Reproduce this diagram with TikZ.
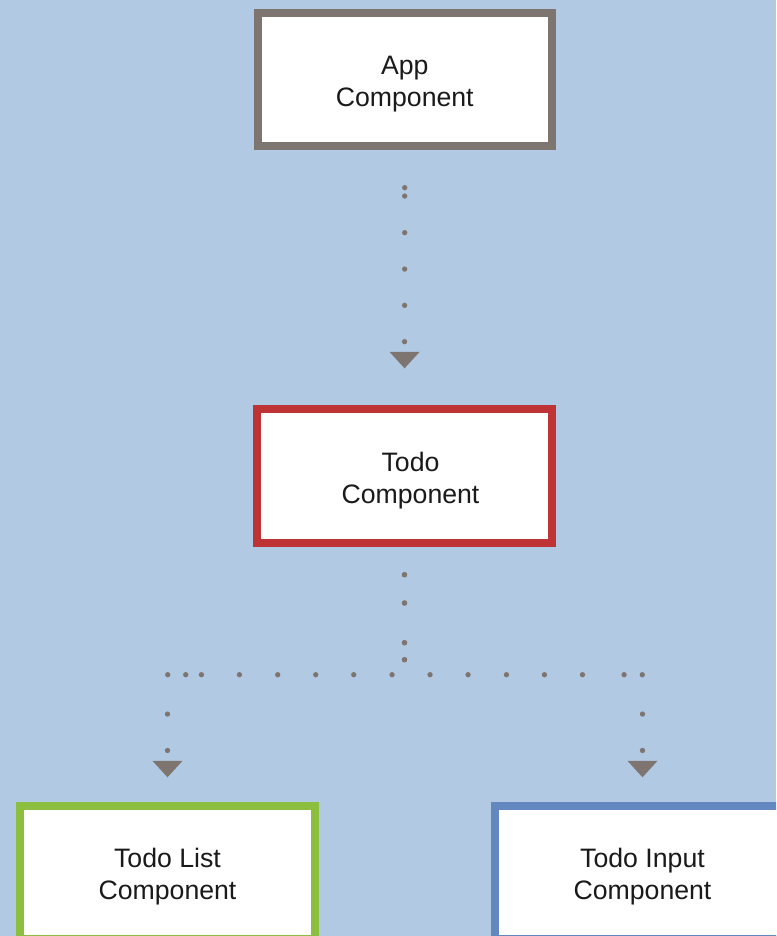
\documentclass[tikz,border=0pt]{standalone}
\usepackage{fontspec}
\setmainfont{Liberation Sans}
\usetikzlibrary{arrows.meta}
\definecolor{bgblue}{RGB}{178,201,228}
\definecolor{boxgray}{RGB}{126,116,112}
\definecolor{boxred}{RGB}{190,52,52}
\definecolor{boxgreen}{RGB}{140,191,63}
\definecolor{boxblue}{RGB}{99,136,191}
\definecolor{txt}{RGB}{26,26,26}
\tikzset{
  compbox/.style={draw, fill=white, line width=6pt, minimum width=220.8pt,
    minimum height=100.3pt, inner sep=0pt, align=center, text=txt,
    font=\fontsize{20}{24}\selectfont},
  conn/.style={draw=boxgray, line width=4pt, line cap=round,
    -{Triangle[width=22.5pt,length=12.3pt,line width=0pt]}, fill=none},
}
\newcommand{\topstrut}{\rule{0pt}{21pt}}
\begin{document}
\begin{tikzpicture}[x=0.75pt,y=-0.75pt]
\fill[bgblue] (0,0) rectangle (776,936);
\useasboundingbox (0,0) rectangle (776,936);
\begin{scope}
\clip (0,0) rectangle (776,936);
\node[compbox, draw=boxgray] (app) at (404.75,79.5) {\topstrut App\\Component};
\node[compbox, draw=boxred] (todo) at (404.5,475.85) {\topstrut\hspace*{9pt}Todo\\\hspace*{9pt}Component};
\node[compbox, draw=boxgreen] (list) at (167.5,872.55) {\topstrut Todo List\\Component};
\node[compbox, draw=boxblue] (input) at (642.5,872.55) {\topstrut Todo Input\\Component};
\coordinate (j) at (404.5,674.7);
\draw[conn, shorten <=27.975pt, shorten >=27.5pt,
  dash pattern=on 0pt off 6.3pt on 0pt off 27.45pt on 0pt off 27.3pt on 0pt off 27.225pt on 0pt off 27.225pt on 0pt off 200pt]
  (app.south) -- (todo.north);
\draw[conn, shorten <=21pt, shorten >=18.3pt,
  dash pattern=on 0pt off 21.225pt on 0pt off 29.775pt on 0pt off 12.75pt on 0pt off 20.5875pt on 0pt off 28.725pt on 0pt off 28.5pt on 0pt off 28.5pt on 0pt off 28.725pt on 0pt off 28.5pt on 0pt off 11.775pt on 0pt off 13.5pt on 0pt off 29.7pt on 0pt off 27.3pt on 0pt off 300pt]
  (todo.south) -- (todo.south |- j) -| (list.north);
\draw[conn, shorten <=21pt, shorten >=18.3pt,
  dash pattern=on 0pt off 21.225pt on 0pt off 29.775pt on 0pt off 12.75pt on 0pt off 30.4125pt on 0pt off 28.5pt on 0pt off 28.8pt on 0pt off 28.5pt on 0pt off 28.5pt on 0pt off 31.2pt on 0pt off 13.65pt on 0pt off 29.7pt on 0pt off 27.3pt on 0pt off 300pt]
  (todo.south) -- (todo.south |- j) -| (input.north);
\end{scope}
\end{tikzpicture}
\end{document}
